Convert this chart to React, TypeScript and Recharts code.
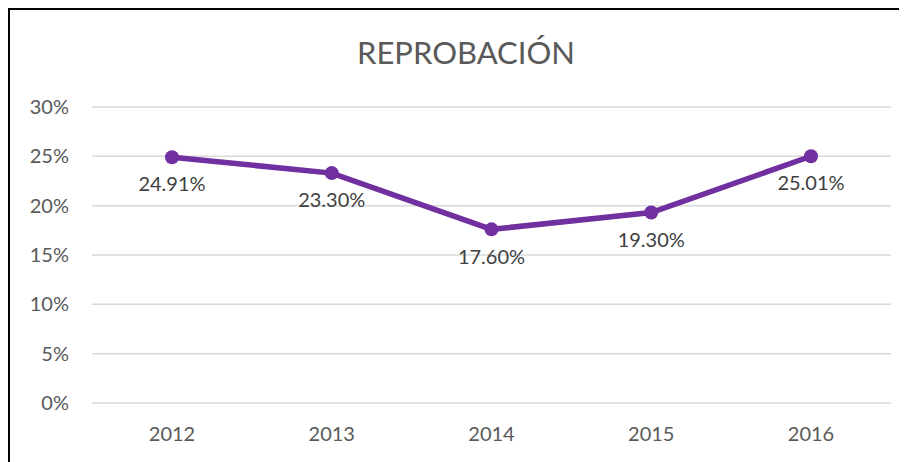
import React from 'react';
import { LineChart, Line, XAxis, YAxis, CartesianGrid, LabelList } from 'recharts';

const years = ['2012', '2013', '2014', '2015', '2016'];
const reprobacion = [24.91, 23.3, 17.6, 19.3, 25.01];
const yTicks = [0, 5, 10, 15, 20, 25, 30];

const data = years.map((y, i) => ({ year: y, value: reprobacion[i] }));

const font = 'Lato, "Open Sans", sans-serif';

const App = () => {
  return (
    <div style={{ width: 899, height: 454, overflow: 'hidden', fontFamily: font }}>
      <div
        style={{
          position: 'relative',
          width: 899,
          height: 454,
          borderLeft: '2px solid #000',
          borderTop: '2px solid #000',
          background: '#fff',
        }}
      >
        <div
          style={{
            position: 'absolute',
            left: 0,
            width: 912,
            top: 23,
            textAlign: 'center',
            fontSize: 31,
            color: '#595959',
          }}
        >
          REPROBACIÓN
        </div>
        <LineChart
          width={897}
          height={452}
          data={data}
          margin={{ top: 97, right: 16, bottom: 29, left: 0 }}
        >
          <CartesianGrid vertical={false} stroke="#d9d9d9" strokeWidth={1.5} />
          <XAxis
            dataKey="year"
            axisLine={false}
            tickLine={false}
            height={30}
            tickMargin={18}
            padding={{ left: 80, right: 80 }}
            tick={{ fill: '#595959', fontSize: 20, fontFamily: font }}
          />
          <YAxis
            domain={[0, 30]}
            ticks={yTicks}
            width={82}
            axisLine={false}
            tickLine={false}
            tickMargin={17}
            tickFormatter={(v) => `${v}%`}
            tick={{ fill: '#595959', fontSize: 20, fontFamily: font }}
          />
          <Line
            type="linear"
            dataKey="value"
            stroke="#7030a0"
            strokeWidth={5.5}
            dot={{ r: 7, fill: '#7030a0', stroke: '#7030a0', strokeWidth: 0 }}
            isAnimationActive={false}
          >
            <LabelList
              dataKey="value"
              position="bottom"
              offset={20}
              formatter={(v: number) => `${v.toFixed(2)}%`}
              style={{ fill: '#404040', fontSize: 20, fontFamily: font }}
            />
          </Line>
        </LineChart>
      </div>
    </div>
  );
};

export default App;
